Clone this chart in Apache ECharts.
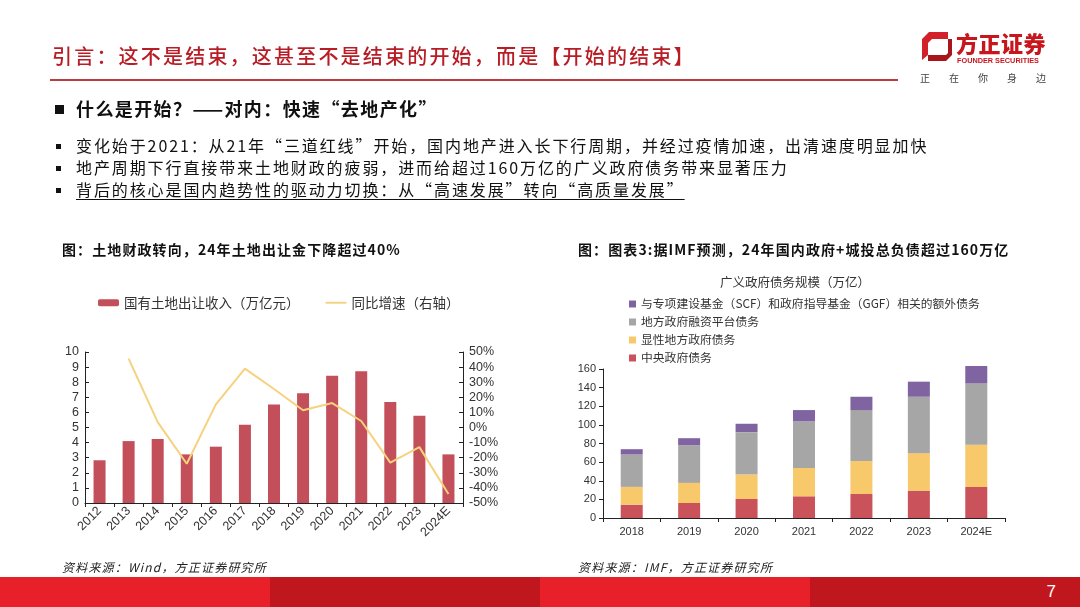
<!DOCTYPE html>
<html>
<head>
<meta charset="utf-8">
<script src="https://cdn.jsdelivr.net/npm/echarts@6/dist/echarts.min.js"></script>
<style>
  html,body{margin:0;padding:0;background:#fff;width:1080px;height:607px;overflow:hidden;}
  body{position:relative;font-family:"Noto Sans CJK SC","Noto Sans",sans-serif;}
  #chart{position:absolute;left:0;top:0;width:1080px;height:607px;}
  .t{position:absolute;white-space:nowrap;}
  #title{left:52px;top:42px;font-size:20px;letter-spacing:2.2px;color:#b81c24;font-weight:500;line-height:28px;}
  #rule{left:50px;top:79px;width:848px;height:2px;background:#b83c40;}
  #heading{left:55px;top:96px;font-size:18px;letter-spacing:1.4px;font-weight:700;color:#111;line-height:24px;}
  .sq{display:inline-block;width:9px;height:9px;background:#111;margin-right:12px;vertical-align:2px;}
  .bl{left:56px;font-size:16px;letter-spacing:1.9px;color:#111;line-height:20px;}
  .bsq{display:inline-block;width:5px;height:5px;background:#111;margin-right:15px;vertical-align:3px;letter-spacing:0;}
  .u{text-decoration:underline;text-underline-offset:3px;}
  .ct{font-size:14px;font-weight:700;color:#111;top:239px;line-height:20px;}
  .src{font-size:12px;font-style:italic;color:#222;top:559px;line-height:16px;letter-spacing:1.2px;}
  .foot{position:absolute;top:577px;height:30px;}
  #pg{right:24px;top:582px;font-size:17px;color:#fff;font-family:"Liberation Sans",Arial,sans-serif;}
  #logoName{left:956px;top:28px;font-size:22px;font-weight:900;color:#c8161d;letter-spacing:0.5px;line-height:28px;}
  #logoEn{left:957px;top:56px;font-size:7.3px;font-weight:700;color:#c8161d;font-family:"Liberation Sans",Arial,sans-serif;line-height:9px;}
  #slogan{left:920px;top:71px;font-size:10px;color:#444;letter-spacing:19px;line-height:14px;}
</style>
</head>
<body>
<div id="chart"></div>

<div class="t" id="title"></div>
<div class="t" id="rule"></div>

<svg style="position:absolute;left:920px;top:31px" width="34" height="32" viewBox="0 0 34 32">
  <polygon points="9,1 28,1 28,8 12,8 8,12 8,24 2,29 2,8" fill="#d3212a"/>
  <polygon points="28,8 32,8 32,24 26,30 8,30 8,24 26,24 28,22" fill="#a8151b"/>
</svg>
<div class="t" id="logoName">方正证券</div>
<div class="t" id="logoEn">FOUNDER SECURITIES</div>
<div class="t" id="slogan">正在你身边</div>

<div class="t" id="heading"></div>
<div class="t bl" id="b1" style="top:135px"></div>
<div class="t bl" id="b2" style="top:157px"></div>
<div class="t bl" id="b3" style="top:179px"></div>

<div class="t ct" id="ct1" style="left:62px;letter-spacing:1.1px"></div>
<div class="t ct" id="ct2" style="left:578px;letter-spacing:1.1px"></div>
<div class="t src" id="s1" style="left:62px"></div>
<div class="t src" id="s2" style="left:578px"></div>

<div class="foot" style="left:0;width:270px;background:#e8202a"></div>
<div class="foot" style="left:270px;width:270px;background:#c0161d"></div>
<div class="foot" style="left:540px;width:270px;background:#e8202a"></div>
<div class="foot" style="left:810px;width:270px;background:#c0161d"></div>
<div class="t" id="pg">7</div>

<script>
// ---------- texts ----------
const pageTitle = '引言：这不是结束，这甚至不是结束的开始，而是【开始的结束】';
const sectionHeading = '什么是开始？——对内：快速“去地产化”';
const bullets = [
  '变化始于2021：从21年“三道红线”开始，国内地产进入长下行周期，并经过疫情加速，出清速度明显加快',
  '地产周期下行直接带来土地财政的疲弱，进而给超过160万亿的广义政府债务带来显著压力',
  '背后的核心是国内趋势性的驱动力切换：从“高速发展”转向“高质量发展”'
];
const leftChartTitle = '图：土地财政转向，24年土地出让金下降超过40%';
const rightChartTitle = '图：图表3:据IMF预测，24年国内政府+城投总负债超过160万亿';
const leftSource = '资料来源：Wind，方正证券研究所';
const rightSource = '资料来源：IMF，方正证券研究所';

// ---------- left chart data ----------
const landYears = ['2012','2013','2014','2015','2016','2017','2018','2019','2020','2021','2022','2023','2024E'];
const landRevenue = [2.83, 4.10, 4.24, 3.22, 3.73, 5.19, 6.53, 7.26, 8.43, 8.72, 6.69, 5.78, 3.22];
const landYoY = [null, 45.6, 3.6, -24.0, 15.3, 39.0, 25.5, 11.4, 16.2, 4.3, -23.3, -13.0, -44.0];
const landSeriesNames = ['国有土地出让收入（万亿元）', '同比增速（右轴）'];

// ---------- right chart data ----------
const debtTitle = '广义政府债务规模（万亿）';
const debtYears = ['2018','2019','2020','2021','2022','2023','2024E'];
const centralDebt = [14.3, 16.1, 20.4, 23.3, 25.8, 29.4, 33.4];
const explicitLocalDebt = [19.1, 21.6, 26.2, 30.5, 35.5, 40.2, 45.2];
const lgfvDebt = [34.8, 40.5, 45.6, 49.9, 54.6, 60.6, 66.0];
const extraFundDebt = [5.7, 7.5, 9.0, 12.2, 14.3, 16.2, 18.6];
const debtSeriesNames = ['中央政府债务', '显性地方政府债务', '地方政府融资平台债务', '与专项建设基金（SCF）和政府指导基金（GGF）相关的额外债务'];

// ---------- fill HTML text ----------
document.getElementById('title').textContent = pageTitle;
document.getElementById('heading').innerHTML = '<span class="sq"></span>' + sectionHeading;
['b1','b2','b3'].forEach((id, i) => {
  const txt = bullets[i];
  document.getElementById(id).innerHTML = '<span class="bsq"></span>' + (i === 2 ? '<span class="u">' + txt + '</span>' : txt);
});
document.getElementById('ct1').textContent = leftChartTitle;
document.getElementById('ct2').textContent = rightChartTitle;
document.getElementById('s1').textContent = leftSource;
document.getElementById('s2').textContent = rightSource;

// ---------- chart ----------
const numFont = '"Liberation Sans", Arial, sans-serif';
const cjkFont = '"Noto Sans CJK SC", sans-serif';
const axisColor = '#222';
const labelColor = '#333';

const chart = echarts.init(document.getElementById('chart'), null, {renderer: 'canvas'});
chart.setOption({
  animation: false,
  backgroundColor: 'transparent',
  title: [{
    text: debtTitle, left: 715, top: 271,
    textStyle: {fontSize: 12.5, fontWeight: 'normal', color: '#333', fontFamily: cjkFont}
  }],
  legend: [
    {
      data: [landSeriesNames[0], {name: landSeriesNames[1], icon: 'path://M0,0L22,0L22,2L0,2Z'}],
      left: 93, top: 291, itemWidth: 21, itemHeight: 7, itemGap: 26,
      textStyle: {fontSize: 13.5, color: '#333', fontFamily: cjkFont}
    },
    {
      data: debtSeriesNames.slice().reverse(),
      orient: 'vertical', left: 624, top: 292, itemWidth: 7, itemHeight: 7, itemGap: 4,
      icon: 'rect',
      textStyle: {fontSize: 11.8, color: '#333', fontFamily: cjkFont, lineHeight: 14}
    }
  ],
  grid: [
    {left: 85, top: 352, width: 378, height: 151},
    {left: 603, top: 369, width: 402, height: 149}
  ],
  xAxis: [
    {
      type: 'category', gridIndex: 0, data: landYears,
      axisLine: {lineStyle: {color: axisColor}},
      axisTick: {show: true, length: 4, lineStyle: {color: axisColor}},
      axisLabel: {rotate: 45, fontSize: 12.5, color: labelColor, fontFamily: numFont, margin: 6}
    },
    {
      type: 'category', gridIndex: 1, data: debtYears,
      axisLine: {lineStyle: {color: axisColor}},
      axisTick: {show: true, length: 4, lineStyle: {color: axisColor}},
      axisLabel: {fontSize: 11, color: labelColor, fontFamily: numFont, margin: 8}
    }
  ],
  yAxis: [
    {
      type: 'value', gridIndex: 0, min: 0, max: 10, interval: 1,
      axisLine: {show: true, lineStyle: {color: axisColor}},
      axisTick: {show: true, inside: true, length: 4, lineStyle: {color: axisColor}},
      splitLine: {show: false},
      axisLabel: {fontSize: 12.5, color: labelColor, fontFamily: numFont, margin: 6}
    },
    {
      type: 'value', gridIndex: 0, position: 'right', min: -50, max: 50, interval: 10,
      axisLine: {show: true, lineStyle: {color: axisColor}},
      axisTick: {show: true, inside: true, length: 4, lineStyle: {color: axisColor}},
      splitLine: {show: false},
      axisLabel: {fontSize: 12.5, color: labelColor, fontFamily: numFont, margin: 6, formatter: '{value}%'}
    },
    {
      type: 'value', gridIndex: 1, min: 0, max: 160, interval: 20,
      axisLine: {show: true, lineStyle: {color: axisColor}},
      axisTick: {show: true, length: 4, lineStyle: {color: axisColor}},
      splitLine: {show: false},
      axisLabel: {fontSize: 11, color: labelColor, fontFamily: numFont, margin: 7}
    }
  ],
  series: [
    {
      name: landSeriesNames[0], type: 'bar', xAxisIndex: 0, yAxisIndex: 0,
      data: landRevenue, barWidth: 12, itemStyle: {color: '#c24f5a'}
    },
    {
      name: landSeriesNames[1], type: 'line', xAxisIndex: 0, yAxisIndex: 1,
      data: landYoY, symbol: 'none', connectNulls: false,
      lineStyle: {color: '#f6d27e', width: 2}, itemStyle: {color: '#f6d27e'}
    },
    {
      name: debtSeriesNames[0], type: 'bar', stack: 'debt', xAxisIndex: 1, yAxisIndex: 2, clip: false,
      data: centralDebt, barWidth: 22, itemStyle: {color: '#c9525b'}
    },
    {
      name: debtSeriesNames[1], type: 'bar', stack: 'debt', xAxisIndex: 1, yAxisIndex: 2, clip: false,
      data: explicitLocalDebt, barWidth: 22, itemStyle: {color: '#f8c96a'}
    },
    {
      name: debtSeriesNames[2], type: 'bar', stack: 'debt', xAxisIndex: 1, yAxisIndex: 2, clip: false,
      data: lgfvDebt, barWidth: 22, itemStyle: {color: '#a6a6a6'}
    },
    {
      name: debtSeriesNames[3], type: 'bar', stack: 'debt', xAxisIndex: 1, yAxisIndex: 2, clip: false,
      data: extraFundDebt, barWidth: 22, itemStyle: {color: '#8064a2'}
    }
  ]
});
</script>
</body>
</html>
